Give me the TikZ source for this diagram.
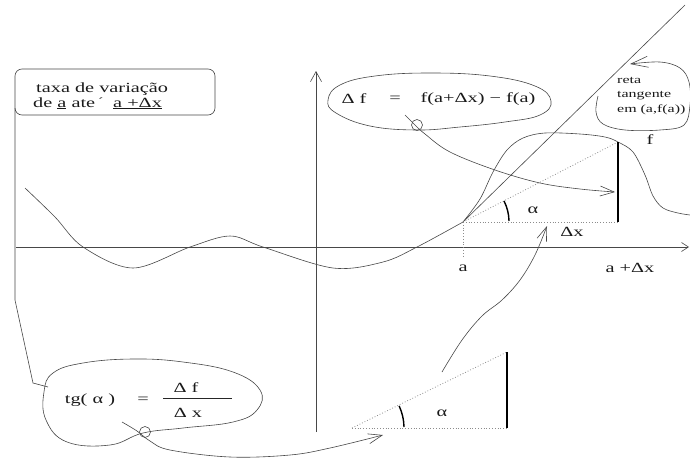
\documentclass[tikz,border=0pt]{standalone}
\usepackage{fontspec}
\setmainfont{Liberation Serif}
\newfontfamily\lblfont[FakeStretch=1.45]{Liberation Serif}
\usetikzlibrary{arrows.meta}
\begin{document}
\begin{tikzpicture}[x=1pt,y=-1pt,
  ln/.style={draw=black!72, line width=0.6pt},
  dots/.style={draw=black!45, line width=0.8pt, dotted},
  thickbar/.style={draw=black, line width=2pt},
  anglearc/.style={draw=black, line width=1.4pt},
  lbl/.style={font=\lblfont\fontsize{14}{16}\selectfont, inner sep=0pt, text=black!90},
  slbl/.style={font=\lblfont\fontsize{11}{14}\selectfont, inner sep=0pt, text=black!90},
  barb/.style={-{Straight Barb[length=14pt,width=10pt]}},
  smallbarb/.style={-{Straight Barb[length=7pt,width=9pt]}},
]
\useasboundingbox (0,0) rectangle (690,461);

% axes
\coordinate (xl) at (16,247);
\coordinate (xr) at (689,247);
\coordinate (yb) at (316,432);
\coordinate (yt) at (316,71);
\draw[ln,smallbarb] (xl) -- (xr);
\draw[ln,-{Straight Barb[length=10pt,width=11pt]}] (yb) -- (yt);

% function f
\coordinate (a) at (463,222);
\draw[ln] plot[smooth, tension=0.55] coordinates {(25,188) (55,217) (83,247) (133,268) (190,247) (230,236) (263,247) (333,268) (383,262) (417,247) (463,222)};
\draw[ln] plot[smooth, tension=0.55] coordinates {(463,222) (480,199) (493,172) (507,150) (523,138) (545,133) (580,134) (605,137) (618,142) (633,152) (645,175) (653,196) (663,208) (678,213) (690,215)};

% tangent line
\coordinate (tt) at (685,5);
\draw[ln] (a) -- (tt);

% triangle at a
\coordinate (bt) at (618,142);
\coordinate (bb) at (618,222);
\coordinate (ab) at (463,257);
\draw[dots] (a) -- (bt);
\draw[dots] (a) -- (bb);
\draw[dots] (a) -- (ab);
\draw[thickbar] (bt) -- (bb);
\draw[anglearc] (a) ++(46,-1) arc[start angle=-1, end angle=-27, radius=46];

\node[lbl] (alpha1) at (533,210) {α};
\node[lbl] (dx) at (572,232) {Δx};
\node[lbl] (la) at (463,268) {a};
\node[lbl] (lad) at (630,268) {a +Δx};
\node[lbl] (lf) at (650,140) {f};

% box
\node[draw=black!72, line width=0.6pt, rounded corners=7pt, minimum width=200pt, minimum height=46pt, inner sep=0pt] (box) at (115,92) {};
\node[lbl, anchor=base west] (t1) at (36,92) {taxa de variação};
\node[lbl, anchor=base west] (t2) at (33,107) {de \underline{a} ate\hspace{3pt}\raisebox{2pt}{\fontsize{11}{11}\selectfont ´}};
\node[lbl, anchor=base west] (t3) at (113,107) {\underline{a +Δx}};
\coordinate (b1) at (15,108);
\coordinate (b2) at (15,300);
\coordinate (b3) at (33,383);
\coordinate (b4) at (48,387);
\draw[ln] (b1) -- (b2) -- (b3) -- (b4);

% Delta f ellipse
\draw[ln] plot[smooth cycle, tension=0.7] coordinates {(417,130) (370,126) (336,113) (328,100) (340,85) (375,76) (430,73) (490,76) (535,86) (551,101) (540,115) (505,122) (460,127)};
\node[lbl] (df) at (354,99) {Δ f};
\node[lbl] (eq1) at (395,99) {=};
\node[lbl] (dfr) at (478,99) {f(a+Δx) − f(a)};
\draw[ln] (417,125) circle[radius=5.5];
\coordinate (dfa) at (615,192);
\draw[ln,barb] plot[smooth, tension=0.6] coordinates {(405,115) (414,124) (425,134) (450,152) (495,170) (540,183) (580,189) (dfa)};

% reta tangente
\node[slbl, anchor=base west] (rt1) at (617,83) {reta};
\node[slbl, anchor=base west] (rt2) at (617,97) {tangente};
\node[slbl, anchor=base west] (rt3) at (617,112) {em (a,f(a))};
\coordinate (rta) at (630,64);
\draw[ln,-{Straight Barb[length=17pt,width=11pt]}] plot[smooth, tension=0.6] coordinates {(598,96) (596,112) (603,124) (625,130) (660,130) (684,125) (690,105) (689,82) (680,68) (660,62) (rta)};

% bottom ellipse
\draw[ln] plot[smooth cycle, tension=0.7] coordinates {(143,433) (110,445) (67,442) (46,420) (44,392) (53,373) (83,363) (133,359) (183,362) (233,372) (260,390) (257,410) (233,422) (183,428)};
\node[lbl] (tg) at (90,400) {tg( α )};
\node[lbl] (eq2) at (143,400) {=};
\node[lbl] (fn) at (186,388) {Δ f};
\node[lbl] (fd) at (188,413) {Δ x};
\coordinate (fl) at (163,398);
\coordinate (fr) at (232,398);
\draw[draw=black!85, line width=0.9pt] (fl) -- (fr);
\draw[ln] (145,432) circle[radius=5.5];
\coordinate (tra) at (383,435);
\draw[ln,barb] plot[smooth, tension=0.6] coordinates {(122,422) (137,431) (150,441) (170,450) (230,457) (290,455) (330,448) (tra)};

% bottom triangle
\coordinate (A2) at (352,428);
\coordinate (B2) at (507,428);
\coordinate (C2) at (507,352);
\draw[dots] (A2) -- (B2);
\draw[dots] (A2) -- (C2);
\draw[thickbar] (C2) -- (B2);
\draw[anglearc] (A2) ++(52,-1) arc[start angle=-1, end angle=-25, radius=52];
\node[lbl] (alpha2) at (442,413) {α};

% arrow up to Delta x
\coordinate (upa) at (547,226);
\draw[ln,barb] plot[smooth, tension=0.6] coordinates {(442,372) (462,340) (482,316) (502,300) (520,280) (535,255) (upa)};
\end{tikzpicture}
\end{document}
